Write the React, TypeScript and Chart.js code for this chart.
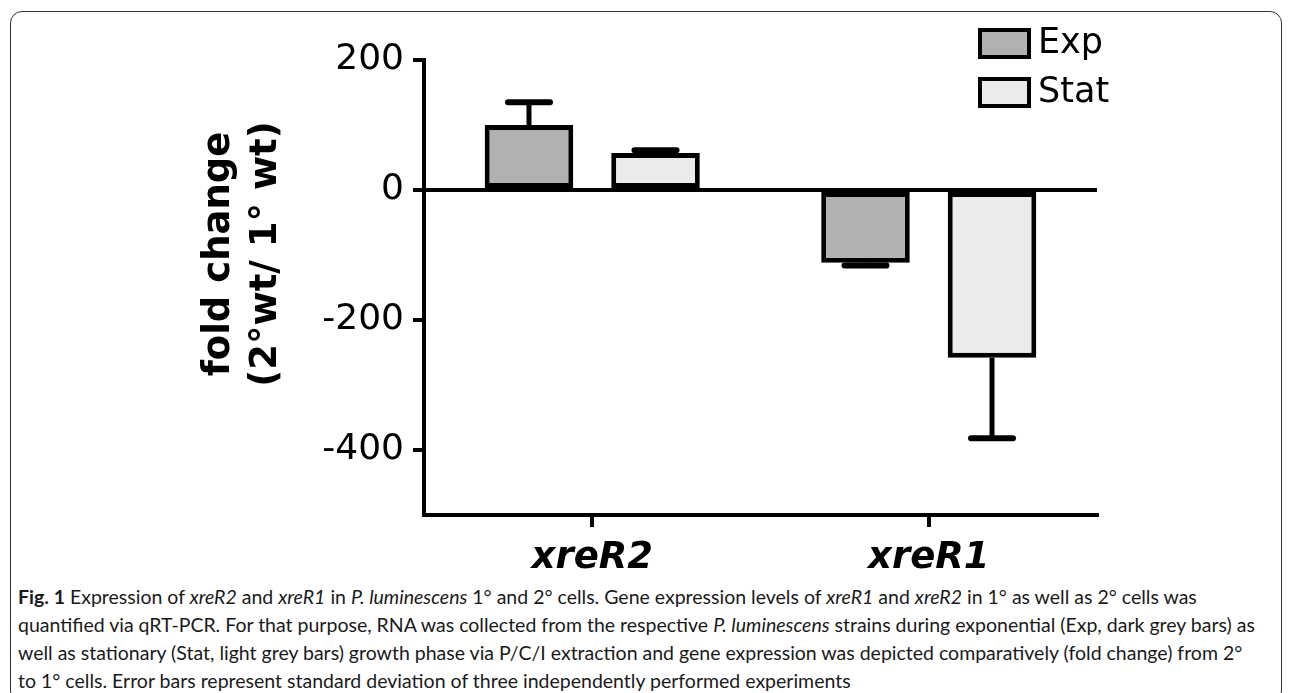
import React, { useEffect, useRef } from "react";
import { Chart, registerables } from "chart.js";

Chart.register(...registerables);

const categories = ["xreR2", "xreR1"];
const seriesLabels = ["Exp", "Stat"];
const expValues = [100, -112];
const expErrors = [35, 4];
const statValues = [57, -258];
const statErrors = [4, 124];
const yTickValues = [-400, -200, 0, 200];
const yMin = -500;
const yMax = 200;
const yTitleLines = ["fold change", "(2°wt/ 1° wt)"];
const seriesColors = ["#b1b1b1", "#ebebeb"];

const errorBarPlugin = {
  id: "errorBars",
  afterDatasetsDraw(chart: any) {
    const ctx = chart.ctx;
    const yScale = chart.scales.y;
    chart.data.datasets.forEach((ds: any, i: number) => {
      const meta = chart.getDatasetMeta(i);
      const errs = ds.errors || [];
      meta.data.forEach((bar: any, j: number) => {
        const v = ds.data[j];
        const e = errs[j];
        if (!e) return;
        const dir = v >= 0 ? 1 : -1;
        const yEnd = yScale.getPixelForValue(v + dir * e);
        const yStart = bar.y;
        ctx.save();
        ctx.strokeStyle = "#000";
        ctx.lineCap = "butt";
        ctx.lineWidth = 5;
        ctx.beginPath();
        ctx.moveTo(bar.x, yStart);
        ctx.lineTo(bar.x, yEnd);
        ctx.stroke();
        ctx.lineCap = "round";
        ctx.lineWidth = 6;
        ctx.beginPath();
        ctx.moveTo(bar.x - 21, yEnd);
        ctx.lineTo(bar.x + 21, yEnd);
        ctx.stroke();
        ctx.restore();
      });
    });
  },
};

const decorPlugin = {
  id: "decor",
  afterDraw(chart: any) {
    const ctx = chart.ctx;
    ctx.save();
    // legend
    chart.data.datasets.forEach((ds: any, i: number) => {
      const bx = 978;
      const by = 28 + i * 49;
      ctx.fillStyle = ds.backgroundColor;
      ctx.fillRect(bx, by, 53, 31);
      ctx.strokeStyle = "#000";
      ctx.lineWidth = 4;
      ctx.strokeRect(bx + 2, by + 2, 49, 27);
      ctx.fillStyle = "#000";
      ctx.font = "35px 'DejaVu Sans'";
      ctx.textAlign = "left";
      ctx.textBaseline = "middle";
      ctx.fillText(ds.label, 1038, by + 16);
    });
    // y title
    ctx.translate(219, 254);
    ctx.rotate(-Math.PI / 2);
    ctx.font = "bold 37px 'DejaVu Sans'";
    ctx.textAlign = "center";
    ctx.textBaseline = "middle";
    ctx.fillStyle = "#000";
    yTitleLines.forEach((line, k) => {
      ctx.fillText(line, 0, k * 47);
    });
    ctx.restore();
  },
};

function ChartCanvas() {
  const ref = useRef<HTMLCanvasElement | null>(null);
  useEffect(() => {
    if (!ref.current) return;
    const chart = new Chart(ref.current, {
      type: "bar",
      data: {
        labels: categories,
        datasets: [
          {
            label: seriesLabels[0],
            data: expValues,
            errors: expErrors,
            backgroundColor: seriesColors[0],
            borderColor: "#000",
            borderWidth: 5,
            borderSkipped: false,
          } as any,
          {
            label: seriesLabels[1],
            data: statValues,
            errors: statErrors,
            backgroundColor: seriesColors[1],
            borderColor: "#000",
            borderWidth: 5,
            borderSkipped: false,
          } as any,
        ],
      },
      options: {
        responsive: false,
        animation: false,
        devicePixelRatio: 1,
        layout: { padding: { top: 60, right: 193, left: 0, bottom: 0 } },
        plugins: { legend: { display: false }, tooltip: { enabled: false } },
        datasets: { bar: { categoryPercentage: 0.752, barPercentage: 0.7 } },
        scales: {
          x: {
            offset: true,
            grid: {
              display: true,
              drawOnChartArea: false,
              drawTicks: true,
              tickLength: 12,
              offset: false,
              color: "#000",
              lineWidth: 4,
            },
            border: { display: true, color: "#000", width: 4 },
            ticks: {
              font: { family: "'DejaVu Sans'", size: 37, weight: "bold", style: "italic" },
              color: "#000",
              padding: 9,
              maxRotation: 0,
            },
            afterFit: (s: any) => {
              s.height = 65;
            },
          },
          y: {
            min: yMin,
            max: yMax,
            afterBuildTicks: (s: any) => {
              s.ticks = yTickValues.map((v) => ({ value: v }));
            },
            grid: {
              drawOnChartArea: true,
              drawTicks: true,
              tickLength: 11,
              color: (c: any) => (c.tick && c.tick.value === 0 ? "#000" : "rgba(0,0,0,0)"),
              tickColor: "#000",
              lineWidth: 4,
              tickWidth: 4,
            },
            border: { display: true, color: "#000", width: 4 },
            ticks: {
              font: { family: "'DejaVu Sans'", size: 36 },
              color: "#000",
              padding: 9,
              callback: (v: any) => String(v),
            },
            afterFit: (s: any) => {
              s.width = 424;
            },
          },
        },
      } as any,
      plugins: [errorBarPlugin, decorPlugin],
    });
    return () => chart.destroy();
  }, []);
  return (
    <canvas
      ref={ref}
      width={1290}
      height={580}
      style={{ position: "absolute", left: 0, top: 0, width: 1290, height: 580 }}
    />
  );
}

const captionStyle: React.CSSProperties = {
  position: "absolute",
  left: 18,
  top: 583,
  fontFamily: "Lato, 'Open Sans', sans-serif",
  fontSize: 19.5,
  lineHeight: "28px",
  color: "#1a1a1a",
  whiteSpace: "nowrap",
};

export default function App() {
  return (
    <div
      style={{
        position: "absolute",
        left: 0,
        top: 0,
        width: 1290,
        height: 693,
        background: "#fff",
        overflow: "hidden",
      }}
    >
      <div
        style={{
          position: "absolute",
          left: 10,
          top: 11,
          width: 1270,
          height: 690,
          border: "1.5px solid #333",
          borderRadius: 12,
        }}
      />
      <ChartCanvas />
      <div style={captionStyle}>
        <div>
          <b>Fig. 1</b> Expression of <i>xreR2</i> and <i>xreR1</i> in <i>P. luminescens</i> 1° and 2° cells. Gene
          expression levels of <i>xreR1</i> and <i>xreR2</i> in 1° as well as 2° cells was
        </div>
        <div>
          quantified via qRT-PCR. For that purpose, RNA was collected from the respective <i>P. luminescens</i> strains
          during exponential (Exp, dark grey bars) as
        </div>
        <div>
          well as stationary (Stat, light grey bars) growth phase via P/C/I extraction and gene expression was depicted
          comparatively (fold change) from 2°
        </div>
        <div>to 1° cells. Error bars represent standard deviation of three independently performed experiments</div>
      </div>
    </div>
  );
}
